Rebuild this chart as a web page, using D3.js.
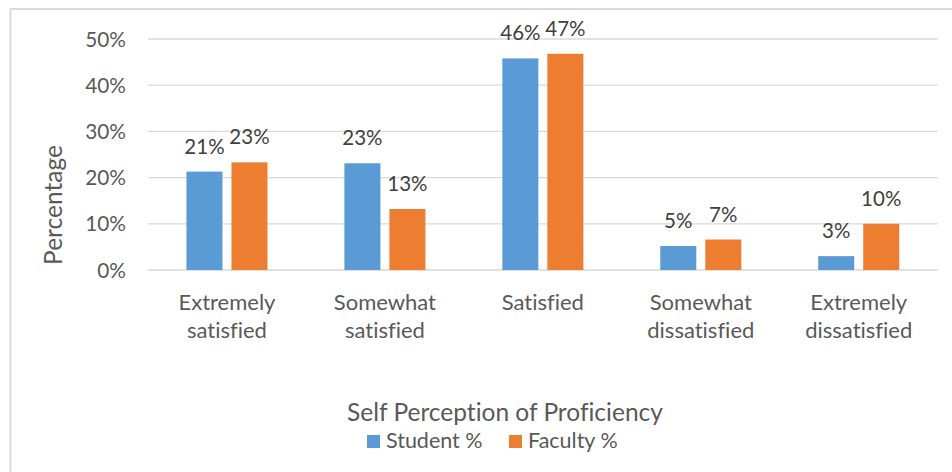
<!DOCTYPE html>
<html lang="en">
<head>
<meta charset="utf-8">
<script src="https://d3js.org/d3.v7.min.js"></script>
<style>
  body { margin: 0; background: #ffffff; }
  text { font-family: Lato, "Open Sans", sans-serif; font-variant-ligatures: none; }
</style>
</head>
<body>
<div id="chart"></div>
<script>
// chart data
var categories = [["Extremely", "satisfied"], ["Somewhat", "satisfied"], ["Satisfied"],
                  ["Somewhat", "dissatisfied"], ["Extremely", "dissatisfied"]];
var seriesNames = ["Student %", "Faculty %"];
var studentPct = [21.3, 23.1, 45.8, 5.2, 3.0];
var facultyPct = [23.3, 13.2, 46.8, 6.6, 10.0];
var studentLabels = ["21%", "23%", "46%", "5%", "3%"];
var facultyLabels = ["23%", "13%", "47%", "7%", "10%"];
var yTicks = [0, 10, 20, 30, 40, 50];

var W = 952, H = 472;
var colors = {"Student %": "#5B9BD5", "Faculty %": "#ED7D31"};

var svg = d3.select("#chart").append("svg")
    .attr("width", W).attr("height", H);

// outer frame (only top and left visible in the crop)
svg.append("rect")
    .attr("x", 10.5).attr("y", 9)
    .attr("width", W + 20).attr("height", H + 20)
    .attr("fill", "none").attr("stroke", "#d9d9d9").attr("stroke-width", 2);

var keys = categories.map(function(c) { return c.join(" "); });

var x0 = d3.scaleBand().domain(keys).range([148, 937.7])
    .paddingInner(0.487).paddingOuter(0.2435);
var x1 = d3.scaleBand().domain(seriesNames).range([0, x0.bandwidth()])
    .paddingInner(0.2).paddingOuter(0);
var y = d3.scaleLinear().domain([0, 50]).range([270, 39]);

// gridlines
svg.append("g").selectAll("line").data(yTicks).enter().append("line")
    .attr("x1", 148).attr("x2", 937.7)
    .attr("y1", function(d) { return y(d); })
    .attr("y2", function(d) { return y(d); })
    .attr("stroke", "#d9d9d9").attr("stroke-width", 1.3);

// y tick labels
svg.append("g").selectAll("text").data(yTicks).enter().append("text")
    .attr("x", 126).attr("y", function(d) { return y(d) + 7.5; })
    .attr("text-anchor", "end")
    .attr("font-size", 20.8).attr("fill", "#595959")
    .text(function(d) { return d + "%"; });

// bars
var rows = keys.map(function(k, i) {
  return [
    {cat: k, name: "Student %", value: studentPct[i], label: studentLabels[i]},
    {cat: k, name: "Faculty %", value: facultyPct[i], label: facultyLabels[i]}
  ];
});

var groups = svg.append("g").selectAll("g").data(rows).enter().append("g")
    .attr("transform", function(d) { return "translate(" + x0(d[0].cat) + ",0)"; });

groups.selectAll("rect").data(function(d) { return d; }).enter().append("rect")
    .attr("x", function(d) { return x1(d.name); })
    .attr("y", function(d) { return y(d.value); })
    .attr("width", x1.bandwidth())
    .attr("height", function(d) { return y(0) - y(d.value); })
    .attr("fill", function(d) { return colors[d.name]; });

groups.selectAll("text").data(function(d) { return d; }).enter().append("text")
    .attr("x", function(d) { return x1(d.name) + x1.bandwidth() / 2; })
    .attr("y", function(d) { return y(d.value) - 18; })
    .attr("text-anchor", "middle")
    .attr("font-size", 20.5).attr("fill", "#404040")
    .text(function(d) { return d.label; });

// category labels
var catText = svg.append("g").selectAll("text").data(categories).enter().append("text")
    .attr("x", function(d, i) { return x0(keys[i]) + x0.bandwidth() / 2; })
    .attr("y", 310)
    .attr("text-anchor", "middle")
    .attr("font-size", 22).attr("fill", "#595959");
catText.selectAll("tspan").data(function(d) { return d; }).enter().append("tspan")
    .attr("x", function() { return this.parentNode.getAttribute("x"); })
    .attr("dy", function(d, i) { return i === 0 ? 0 : 28; })
    .text(function(d) { return d; });

// axis titles
svg.append("text")
    .attr("transform", "translate(62,205) rotate(-90)")
    .attr("text-anchor", "middle")
    .attr("font-size", 24.5).attr("fill", "#595959")
    .text("Percentage");

svg.append("text")
    .attr("x", 505).attr("y", 421)
    .attr("text-anchor", "middle")
    .attr("font-size", 24.5).attr("fill", "#595959")
    .text("Self Perception of Proficiency");

// legend
var legendX = [367, 509];
var legend = svg.append("g").selectAll("g").data(seriesNames).enter().append("g")
    .attr("transform", function(d, i) { return "translate(" + legendX[i] + ",435)"; });
legend.append("rect")
    .attr("width", 13).attr("height", 13)
    .attr("fill", function(d) { return colors[d]; });
legend.append("text")
    .attr("x", 19).attr("y", 12.5)
    .attr("font-size", 21.5).attr("fill", "#595959")
    .text(function(d) { return d; });
</script>
</body>
</html>
